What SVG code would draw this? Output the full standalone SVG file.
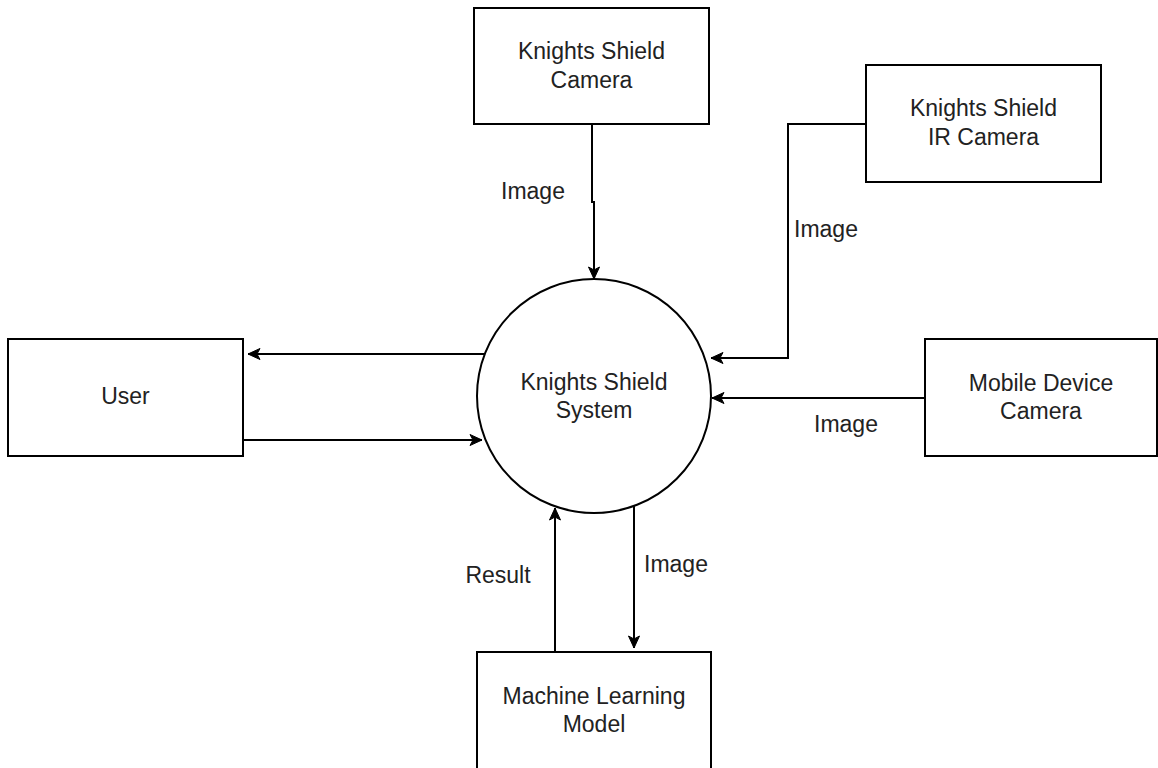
<svg xmlns="http://www.w3.org/2000/svg" width="1158" height="768" viewBox="0 0 1158 768">
<style>
.box{fill:#fff;stroke:#000;stroke-width:2}
.t{font-family:"Liberation Sans",Arial,sans-serif;font-size:23px;fill:#222;text-anchor:middle}
.c{fill:none;stroke:#000;stroke-width:2}
</style>
<defs>
<marker id="ah" markerUnits="userSpaceOnUse" markerWidth="14" markerHeight="14" viewBox="0 0 14 14" refX="13" refY="7" orient="auto">
<path d="M1,1.5 L13,7 L1,12.5 L4,7 Z" fill="#000" stroke="#000" stroke-width="1"/>
</marker>
</defs>
<rect width="1158" height="768" fill="#fff"/>
<g id="connectors">
<path class="c" d="M592,124 V202 H594 V279" marker-end="url(#ah)"/>
<path class="c" d="M866,124 H788 V358 H711" marker-end="url(#ah)"/>
<path class="c" d="M925,398 H712" marker-end="url(#ah)"/>
<path class="c" d="M484,354 H248" marker-end="url(#ah)"/>
<path class="c" d="M243,440 H482" marker-end="url(#ah)"/>
<path class="c" d="M555,652 V508" marker-end="url(#ah)"/>
<path class="c" d="M634,506 V648" marker-end="url(#ah)"/>
<text class="t" x="533" y="199">Image</text>
<text class="t" x="826" y="237">Image</text>
<text class="t" x="846" y="432">Image</text>
<text class="t" x="498" y="583">Result</text>
<text class="t" x="676" y="572">Image</text>
</g>
<g id="ks-camera">
<rect class="box" x="474" y="8" width="235" height="116"/>
<text class="t" x="591.5" y="59">Knights Shield</text>
<text class="t" x="591.5" y="88">Camera</text>
</g>
<g id="ir-camera">
<rect class="box" x="866" y="65" width="235" height="117"/>
<text class="t" x="983.5" y="116">Knights Shield</text>
<text class="t" x="983.5" y="145">IR Camera</text>
</g>
<g id="mobile-camera">
<rect class="box" x="925" y="339" width="232" height="117"/>
<text class="t" x="1041" y="391">Mobile Device</text>
<text class="t" x="1041" y="419">Camera</text>
</g>
<g id="user">
<rect class="box" x="8" y="339" width="235" height="117"/>
<text class="t" x="125.5" y="404">User</text>
</g>
<g id="system">
<circle class="box" cx="594" cy="396" r="117"/>
<text class="t" x="594" y="390">Knights Shield</text>
<text class="t" x="594" y="418">System</text>
</g>
<g id="ml-model">
<rect class="box" x="477" y="652" width="234" height="118"/>
<text class="t" x="594" y="704">Machine Learning</text>
<text class="t" x="594" y="732">Model</text>
</g>
</svg>
